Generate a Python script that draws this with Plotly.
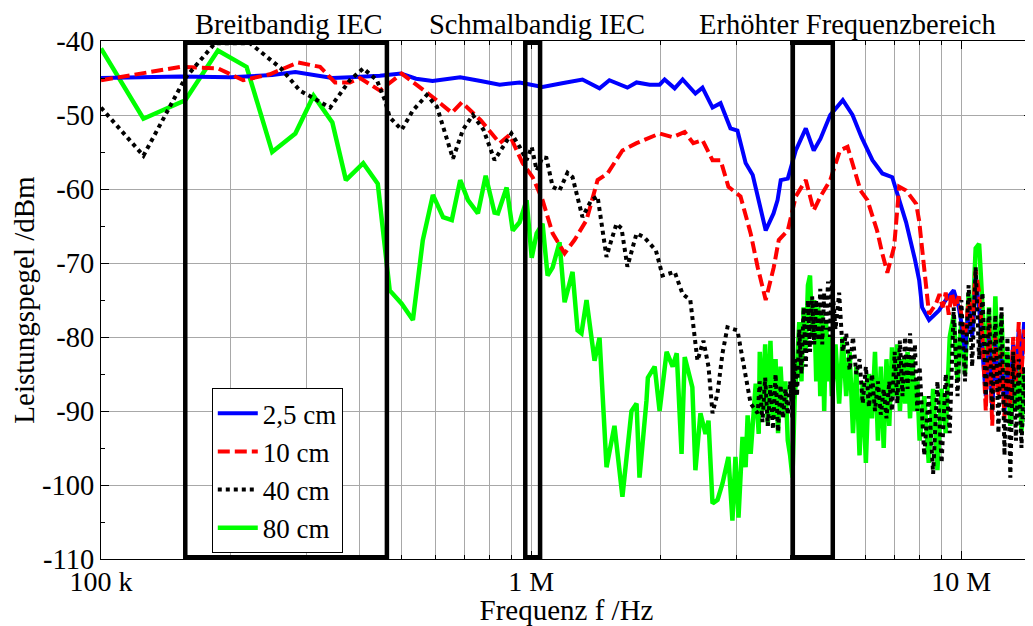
import plotly.graph_objects as go
import numpy as np

FONT = "Liberation Serif"

# ---------------- data (frequency in MHz, level in dBm) ----------------
blue_f = [0.100, 0.120, 0.153, 0.200, 0.250, 0.283, 0.323, 0.345, 0.380, 0.445,
          0.498, 0.540, 0.590, 0.630, 0.684, 0.763, 0.845, 0.940, 1.008, 1.063,
          1.180, 1.316, 1.442, 1.520, 1.674, 1.758, 1.886, 1.989, 2.043, 2.156,
          2.250, 2.409, 2.502, 2.640, 2.756, 2.906, 3.017, 3.152, 3.274, 3.360,
          3.450, 3.510, 3.660, 3.740, 3.804, 3.950, 4.123, 4.350, 4.539, 4.706,
          4.958, 5.303, 5.586, 5.861, 6.215, 6.554, 6.909, 7.171, 7.442, 7.800,
          7.980, 8.108, 8.415, 8.874, 9.204, 9.602, 9.866,
          10.0, 10.2, 10.4, 10.6, 10.8, 11.0, 11.2, 11.4, 11.6, 11.8, 12.0, 12.2,
          12.4, 12.6, 12.8, 13.0, 13.2, 13.4, 13.6, 13.8, 14.0, 14.2, 14.4, 14.6]
blue_db = [-45.0, -44.9, -44.8, -44.9, -44.6, -44.2, -44.7, -45.0, -44.9, -44.7,
           -44.4, -45.1, -45.4, -45.2, -44.9, -45.4, -45.9, -45.6, -45.9, -46.2,
           -45.7, -45.2, -46.4, -45.3, -46.3, -45.6, -45.9, -45.9, -45.2, -46.4,
           -45.2, -47.1, -46.3, -49.0, -48.4, -51.8, -52.1, -56.5, -58.1, -61.0,
           -63.8, -65.6, -63.3, -61.5, -58.8, -58.6, -54.8, -51.8, -54.8, -53.2,
           -50.0, -48.0, -50.0, -53.0, -56.1, -57.9, -58.4, -61.5, -64.5, -69.5,
           -72.3, -76.0, -77.7, -76.4, -75.0, -73.7, -76.0,
           -78, -82, -76, -80, -72, -76, -82, -88, -80, -90, -81, -87,
           -83, -90, -85, -88, -81, -85, -79, -84, -78, -81, -77, -79]

red_f = [0.100, 0.153, 0.187, 0.214, 0.247, 0.287, 0.323, 0.350, 0.379, 0.400,
         0.445, 0.500, 0.591, 0.654, 0.690, 0.763, 0.845, 0.891, 0.955, 1.008,
         1.063, 1.122, 1.196, 1.261, 1.345, 1.427, 1.505, 1.630, 1.758, 1.989,
         2.133, 2.275, 2.382, 2.502, 2.640, 2.756, 2.875, 3.067, 3.238, 3.363,
         3.510, 3.664, 3.764, 3.950, 4.123, 4.350, 4.539, 4.706, 4.958, 5.222,
         5.440, 5.830, 6.050, 6.370, 6.550, 6.730, 6.980, 7.171, 7.442, 7.852,
         7.980, 8.108, 8.283, 8.415, 8.734, 8.900, 9.050, 9.200, 9.350, 9.500,
         9.700, 9.866,
         10.0, 10.2, 10.4, 10.6, 10.8, 11.0, 11.2, 11.4, 11.6, 11.8, 12.0, 12.2,
         12.4, 12.6, 12.8, 13.0, 13.2, 13.4, 13.6, 13.8, 14.0, 14.2, 14.4, 14.6]
red_db = [-45.3, -43.5, -43.7, -45.3, -44.5, -42.9, -43.5, -45.6, -45.6, -45.0,
          -46.7, -44.4, -47.6, -49.7, -48.3, -50.7, -53.8, -52.7, -56.5, -58.4,
          -61.5, -66.0, -68.7, -66.9, -64.2, -58.8, -57.9, -54.8, -53.8, -52.5,
          -53.0, -52.3, -53.8, -53.4, -56.1, -56.1, -59.7, -61.0, -66.0, -70.6,
          -75.0, -70.6, -66.9, -65.6, -61.0, -58.8, -62.9, -61.0, -58.8, -54.8,
          -54.3, -60.2, -61.5, -65.6, -68.7, -71.3, -67.8, -59.7, -60.2, -62.0,
          -64.3, -67.8, -73.3, -76.9, -75.5, -74.2, -76.0, -74.0, -77.0, -74.0,
          -76.0, -74.5,
          -77, -80, -75, -78, -71, -74, -80, -90, -78, -92, -80, -88,
          -82, -91, -84, -89, -80, -86, -78, -85, -79, -83, -78, -80]

black_lf_f = [0.100, 0.1255, 0.157, 0.184, 0.222, 0.261, 0.290, 0.341, 0.379, 0.407,
              0.438, 0.457, 0.469, 0.500, 0.531, 0.572, 0.604, 0.630, 0.658, 0.694,
              0.732, 0.775, 0.822, 0.845, 0.900, 0.940, 0.976, 1.003, 1.030, 1.063,
              1.085, 1.122, 1.164, 1.215, 1.248, 1.316, 1.380, 1.427, 1.457, 1.497,
              1.520, 1.579, 1.622, 1.674, 1.758, 1.830, 1.950, 2.020, 2.156, 2.250,
              2.344, 2.436, 2.515, 2.584, 2.640, 2.712, 2.785, 2.860, 3.017, 3.117,
              3.238, 3.363]
black_lf_db = [-49.0, -55.5, -45.0, -40.3, -40.3, -43.6, -46.7, -49.0, -45.3, -43.7,
               -45.3, -48.0, -50.3, -52.0, -49.4, -47.3, -48.9, -52.5, -55.9, -52.0,
               -50.0, -52.0, -56.1, -55.0, -52.5, -54.3, -56.1, -54.3, -57.5, -55.7,
               -55.8, -59.7, -60.2, -57.8, -58.4, -63.8, -61.5, -61.0, -64.7, -69.2,
               -67.8, -64.7, -65.3, -70.5, -66.0, -66.5, -68.3, -71.7, -71.2, -74.2,
               -75.0, -83.2, -80.5, -84.0, -90.3, -87.6, -82.2, -78.7, -79.1, -84.0,
               -89.0, -90.3]

green_lf_f = [0.100, 0.1255, 0.157, 0.187, 0.218, 0.250, 0.283, 0.312, 0.345, 0.371,
              0.407, 0.440, 0.469, 0.500, 0.531, 0.560, 0.591, 0.624, 0.654, 0.684,
              0.713, 0.752, 0.784, 0.822, 0.837, 0.877, 0.906, 0.940, 0.976, 1.003,
              1.030, 1.063, 1.092, 1.122, 1.164, 1.196, 1.248, 1.282, 1.309, 1.345,
              1.404, 1.442, 1.497, 1.562, 1.630, 1.711, 1.758, 1.786, 1.854, 1.868,
              1.937, 1.989, 2.065, 2.133, 2.180, 2.237, 2.275, 2.370, 2.409, 2.475,
              2.543, 2.584, 2.640, 2.712, 2.785, 2.875, 2.937, 2.985, 3.034, 3.100,
              3.152, 3.186, 3.238, 3.327, 3.381]
green_lf_db = [-41.0, -50.5, -48.0, -41.3, -43.5, -55.0, -52.5, -47.4, -51.0, -58.8,
               -56.5, -59.3, -73.7, -75.5, -77.7, -66.9, -60.8, -63.8, -64.2, -58.8,
               -61.5, -63.3, -58.2, -63.2, -63.3, -59.8, -65.6, -64.5, -61.5, -69.3,
               -66.0, -64.7, -71.7, -70.6, -67.2, -75.3, -71.2, -79.1, -79.5, -75.0,
               -83.2, -80.1, -97.6, -92.0, -101.6, -90.0, -89.0, -99.0, -88.6, -85.5,
               -84.0, -90.0, -82.0, -84.0, -82.2, -95.8, -82.7, -86.8, -98.0, -90.3,
               -93.1, -91.3, -102.5, -102.0, -99.8, -96.2, -104.8, -96.2, -104.4, -93.5,
               -97.6, -90.6, -95.8, -86.3, -93.1]

# high-frequency sweep points shared by the 40 cm and 80 cm measurements
hf_f = [3.40, 3.45, 3.50, 3.55, 3.60, 3.65, 3.70, 3.75, 3.80, 3.85, 3.90, 3.95,
        4.00, 4.05, 4.10, 4.15, 4.20, 4.25, 4.30, 4.35, 4.40, 4.45, 4.50, 4.55,
        4.60, 4.65, 4.70, 4.75, 4.80, 4.85, 4.90, 4.95, 5.00,
        5.1, 5.2, 5.3, 5.4, 5.5, 5.6, 5.7, 5.8, 5.9, 6.0, 6.1, 6.2, 6.3, 6.4, 6.5,
        6.6, 6.7, 6.8, 6.9, 7.0, 7.1, 7.2, 7.3, 7.4, 7.5, 7.6, 7.7, 7.8, 7.9, 8.0,
        8.2, 8.4, 8.6, 8.8, 9.0, 9.2, 9.4, 9.6, 9.8, 10.0, 10.2, 10.4, 10.6, 10.8,
        11.0, 11.2, 11.4, 11.6, 11.8, 12.0, 12.2, 12.4, 12.6, 12.8, 13.0, 13.2,
        13.4, 13.6, 13.8, 14.0, 14.2, 14.4, 14.6]
black_hf_db = [-86, -91.5, -85.5, -92, -86.5, -92.5, -85, -92.8, -86.5, -91, -87, -90.5,
               -86, -91, -83, -88, -79, -85, -76, -84, -75, -82, -74.5, -81,
               -75, -80.5, -73.5, -81, -74, -79, -72.5, -80, -72.3,
               -79, -74, -82, -79.5, -84.5, -80, -85, -83, -89, -84, -89.5, -85, -90, -86, -90.5,
               -87, -91, -86, -90, -82, -89, -80.5, -88, -80, -87, -79.5, -86, -81, -90, -84,
               -96, -88, -98.5, -86, -97, -85, -93, -76, -88, -75, -86, -73, -84, -70.6,
               -83, -74, -88, -76, -90, -77, -93, -76, -96, -80, -99, -82,
               -94, -83, -95, -84, -92, -85, -90]
green_hf_db = [-82, -90, -81, -92, -80.5, -91, -83, -93, -84, -90, -86, -94,
               -96, -99, -88, -84, -78, -86, -76, -82, -73, -71.7, -80, -75,
               -86, -76, -88, -77, -90, -78, -86, -80, -88,
               -81, -89, -80, -88, -82, -93, -84, -96, -86, -97, -85, -91, -82, -94, -84,
               -95, -83, -92, -81.4, -88, -81, -90, -83, -89, -82, -91, -83, -90, -86, -94,
               -88, -97, -87, -98, -87, -93, -80, -77, -86, -78, -85, -74, -79, -68,
               -67.4, -76, -84, -76, -89, -74.5, -86, -77, -88, -82, -92, -84,
               -90, -82, -93, -85, -88, -83, -86]

black_f = black_lf_f + hf_f
black_db = black_lf_db + black_hf_db
green_f = green_lf_f + hf_f
green_db = green_lf_db + green_hf_db

series_names = ["2,5 cm", "10 cm", "40 cm", "80 cm"]

# marked frequency bands (MHz) and label positions (fraction of plot width)
bands = [("Breitbandig IEC", 0.157, 0.462, 0.2017),
         ("Schmalbandig IEC", 0.969, 1.049, 0.468),
         ("Erhöhter Frequenzbereich", 4.058, 5.026, 0.8015)]

x_major = [1e5, 1e6, 1e7]
x_major_text = ["100 k", "1 M", "10 M"]
y_ticks = [-110, -100, -90, -80, -70, -60, -50, -40]
y_ticks_text = [str(v) for v in y_ticks]

# ---------------- figure ----------------
def hz(lst):
    return [v * 1e6 for v in lst]

fig = go.Figure()
fig.add_trace(go.Scatter(x=hz(green_f), y=green_db, mode="lines", name=series_names[3],
                         line=dict(color="#00ff00", width=4.5), legendrank=4))
fig.add_trace(go.Scatter(x=hz(blue_f), y=blue_db, mode="lines", name=series_names[0],
                         line=dict(color="#0000ff", width=4), legendrank=1))
fig.add_trace(go.Scatter(x=hz(red_f), y=red_db, mode="lines", name=series_names[1],
                         line=dict(color="#ff0000", width=4, dash="12px,5px"), legendrank=2))
fig.add_trace(go.Scatter(x=hz(black_f), y=black_db, mode="lines", name=series_names[2],
                         line=dict(color="#000000", width=4, dash="4px,4px"), legendrank=3))

# plot area: 93..1024 px wide, 33..551 px high inside the 1025x618 figure
top_paper = 1 + 33 / 518
log_lo, log_hi = 5.0, np.log10(14.6e6)
for label, f0, f1, xl in bands:
    fig.add_shape(type="rect", xref="x", yref="y", x0=f0 * 1e6, x1=f1 * 1e6,
                  y0=-109.75, y1=-40.25, line=dict(color="black", width=4.5),
                  layer="above")
    fig.add_annotation(x=xl, y=top_paper, xref="paper", yref="paper", text=label,
                       showarrow=False, xanchor="center", yanchor="top", borderpad=0,
                       font=dict(family=FONT, size=28.5, color="black"))

minor_x = [m * 10 ** e for e in (5, 6) for m in range(2, 10)]
gridc = "#a8a8a8"

# the page body has an 8 px margin, so the figure is sized to fit the window
fig.update_layout(
    template="none",
    width=1025, height=618,
    margin=dict(l=93, r=1, t=33, b=67, autoexpand=False),
    plot_bgcolor="white", paper_bgcolor="white",
    font=dict(family=FONT, size=29, color="black"),
    showlegend=True,
    legend=dict(x=0.119, y=0.3295, xanchor="left", yanchor="top",
                bordercolor="black", borderwidth=1, bgcolor="white",
                font=dict(family=FONT, size=27, color="black"),
                tracegroupgap=0, itemwidth=40),
    xaxis=dict(type="log", range=[log_lo, log_hi], automargin=False,
               tickmode="array", tickvals=x_major, ticktext=x_major_text,
               ticks="inside", ticklen=8, tickcolor="black", tickwidth=1,
               ticklabelstandoff=-3,
               showline=True, linecolor="black", linewidth=1, mirror="allticks",
               showgrid=True, gridcolor=gridc, gridwidth=1, zeroline=False,
               minor=dict(tickmode="array", tickvals=minor_x, ticks="inside",
                          ticklen=4, tickcolor="black", showgrid=True,
                          gridcolor=gridc, gridwidth=1),
               tickfont=dict(family=FONT, size=28, color="black"),
               title=dict(text="Frequenz f /Hz", standoff=7,
                          font=dict(family=FONT, size=29, color="black"))),
    yaxis=dict(range=[-110, -40], automargin=False, tickmode="array", tickvals=y_ticks,
               ticktext=y_ticks_text, ticks="inside", ticklen=8, tickcolor="black",
               tickwidth=1,
               showline=True, linecolor="black", linewidth=1, mirror="allticks",
               showgrid=True, gridcolor=gridc, gridwidth=1, zeroline=False,
               minor=dict(dtick=5, ticks="inside", ticklen=4, tickcolor="black",
                          showgrid=False),
               tickfont=dict(family=FONT, size=28.5, color="black"),
               title=dict(text="Leistungspegel /dBm", standoff=4,
                          font=dict(family=FONT, size=29, color="black"))),
)

fig.write_html("out.html")
